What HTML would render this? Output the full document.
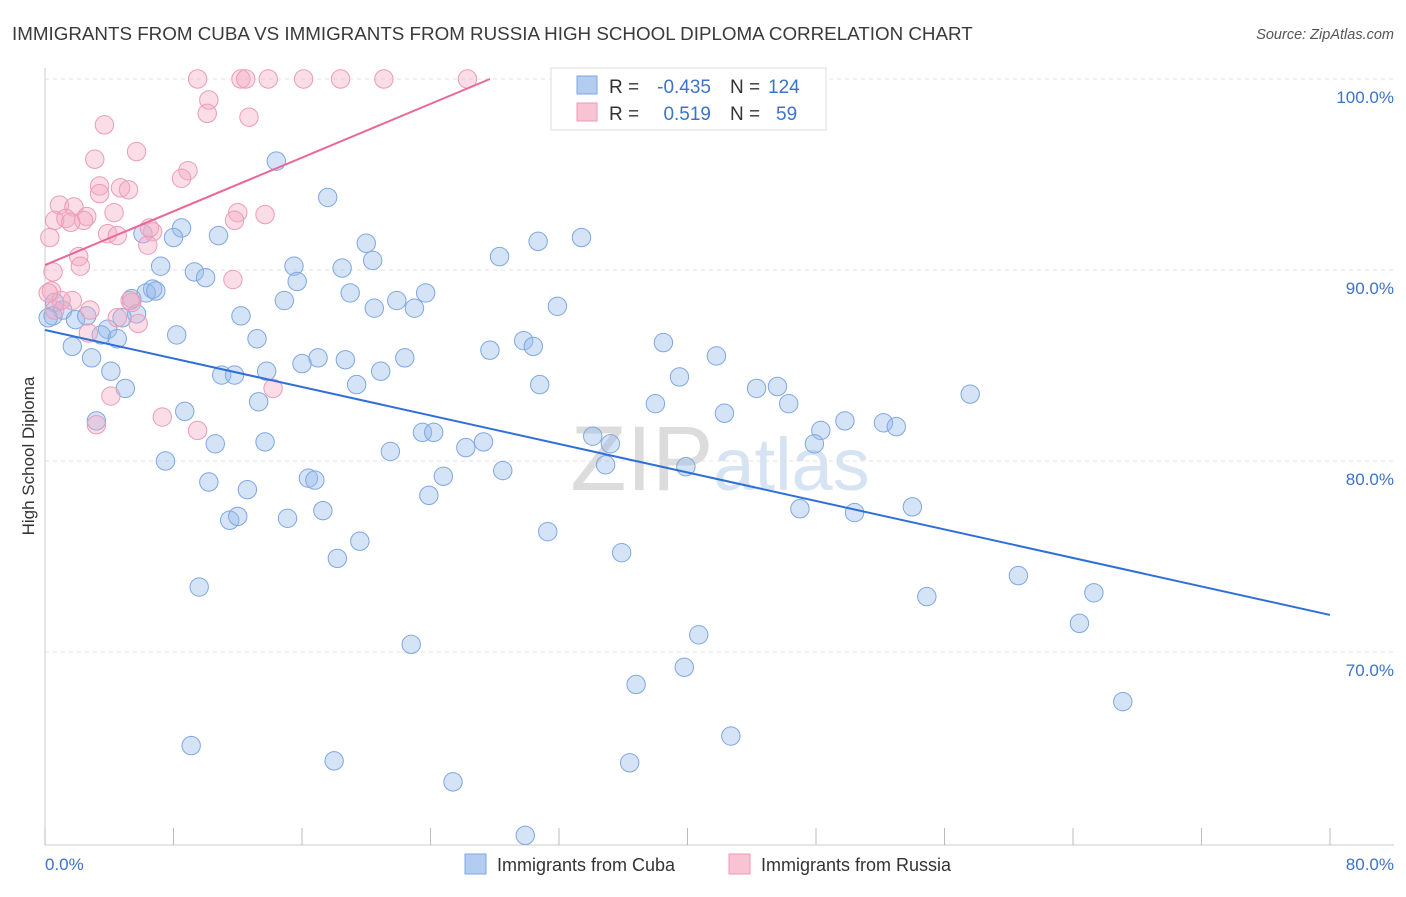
<!DOCTYPE html>
<html><head><meta charset="utf-8">
<style>
body{margin:0;background:#fff;font-family:"Liberation Sans",sans-serif;}
svg text{font-family:"Liberation Sans",sans-serif;}
</style></head>
<body>
<svg id="chart" width="1406" height="892" xmlns="http://www.w3.org/2000/svg">
<text x="12" y="40" font-size="18.8" fill="#3a3a3a">IMMIGRANTS FROM CUBA VS IMMIGRANTS FROM RUSSIA HIGH SCHOOL DIPLOMA CORRELATION CHART</text>
<text x="1394" y="39" font-size="14.5" fill="#555" font-style="italic" text-anchor="end">Source: ZipAtlas.com</text>
<text x="720" y="490" font-size="92" fill="#e4e4e4" text-anchor="middle" font-family="Liberation Serif"><tspan fill="#dcdcdc">ZIP</tspan><tspan fill="#d6e3f3" font-family="Liberation Sans" font-size="74">atlas</tspan></text>
<g id="grid"></g>
<g id="axes"></g>
<g id="pts"></g>
<g id="lines"></g>
<text transform="translate(34,456) rotate(-90)" font-size="17" fill="#333" text-anchor="middle">High School Diploma</text>
<text x="45" y="870" font-size="17" fill="#3b73c9">0.0%</text>
<text x="1394" y="870" font-size="17" fill="#3b73c9" text-anchor="end">80.0%</text>
<g>
<rect x="551" y="68" width="275" height="62" fill="#fff" stroke="#ddd"/>
<rect x="577" y="76" width="20" height="18" fill="#b3cdf2" stroke="#7fa6e0"/>
<rect x="577" y="103" width="20" height="18" fill="#f8c3d3" stroke="#eb98b2"/>
<text x="609" y="93" font-size="19" fill="#333">R =</text>
<text x="711" y="93" font-size="19" fill="#3b73c9" text-anchor="end">-0.435</text>
<text x="730" y="93" font-size="19" fill="#333">N =</text>
<text x="768" y="93" font-size="19" fill="#3b73c9">124</text>
<text x="609" y="120" font-size="19" fill="#333">R =</text>
<text x="711" y="120" font-size="19" fill="#3b73c9" text-anchor="end">0.519</text>
<text x="730" y="120" font-size="19" fill="#333">N =</text>
<text x="776" y="120" font-size="19" fill="#3b73c9">59</text>
</g>
<g>
<rect x="465" y="854" width="21" height="20" fill="#b3cdf2" stroke="#7fa6e0"/>
<text x="497" y="871" font-size="18" fill="#333">Immigrants from Cuba</text>
</g>
<g>
<rect x="729" y="854" width="21" height="20" fill="#f8c3d3" stroke="#eb98b2"/>
<text x="761" y="871" font-size="18" fill="#333">Immigrants from Russia</text>
</g>
</svg>
<script>
const cubaX=[14.4,17.6,8.5,6.1,8.0,10.8,20.0,30.7,33.4,28.3,20.4,7.2,15.5,18.5,9.3,10.0,15.7,5.4,6.7,6.3,6.9,14.9,19.0,21.9,23.7,20.5,23.0,31.9,12.2,5.7,4.8,3.9,3.5,4.5,8.2,13.2,0.6,0.5,1.1,1.9,2.6,1.7,2.9,0.2,29.8,30.4,27.7,38.5,41.8,17.0,18.7,16.0,22.4,4.1,11.0,11.8,13.8,20.9,19.4,30.8,39.5,44.3,45.6,5.0,13.3,8.7,46.3,42.3,38.0,57.6,49.8,52.2,53.0,48.3,47.9,3.2,10.6,13.7,23.5,24.2,26.2,27.3,34.1,35.2,21.5,7.5,34.9,39.9,28.5,24.8,10.2,16.4,16.8,12.6,23.9,47.0,50.4,54.0,17.3,15.1,11.5,12.0,31.3,19.6,18.2,35.9,60.6,65.3,54.9,9.6,64.4,40.7,22.8,39.8,36.8,67.1,42.7,9.1,18.0,36.4,25.4,29.9];
const cubaY=[95.7,93.8,92.2,91.9,91.7,91.8,91.4,91.5,91.7,90.7,90.5,90.2,90.2,90.1,89.9,89.6,89.4,88.5,89.0,88.8,88.9,88.4,88.8,88.4,88.8,88.0,88.0,88.1,87.6,87.7,87.5,86.9,86.6,86.4,86.6,86.4,88.3,87.6,87.9,87.4,87.6,86.0,85.4,87.5,86.3,86.0,85.8,86.2,85.5,85.4,85.3,85.1,85.4,84.7,84.5,84.5,84.7,84.7,84.0,84.0,84.4,83.8,83.9,83.8,83.1,82.6,83.0,82.5,83.0,83.5,82.1,82.0,81.8,81.6,80.9,82.1,80.9,81.0,81.5,81.5,80.7,81.0,81.3,80.9,80.5,80.0,79.8,79.7,79.5,79.2,78.9,79.1,79.0,78.5,78.2,77.5,77.3,77.6,77.4,77.0,76.9,77.1,76.3,75.8,74.9,75.2,74.0,73.1,72.9,73.4,71.5,70.9,70.4,69.2,68.3,67.4,65.6,65.1,64.3,64.2,63.2,60.4];
const russiaX=[9.5,12.2,12.5,13.9,16.1,18.4,21.1,26.3,34.6,10.2,10.1,12.7,3.7,5.7,3.1,8.9,8.5,3.4,4.7,5.2,3.4,0.9,1.8,4.3,12.0,13.7,0.6,1.3,2.6,2.4,1.6,11.8,0.3,3.9,4.5,6.7,6.4,2.1,2.2,0.5,11.7,0.4,1.7,2.8,5.4,4.5,5.8,2.7,4.1,14.2,3.2,7.3,9.5,0.6,6.5,5.3,1.0,0.2];
const russiaY=[100,100,100,100,100,100,100,100,100,98.9,98.2,98.0,97.6,96.2,95.8,95.2,94.8,94.4,94.3,94.2,94.0,93.4,93.3,93.0,93.0,92.9,92.6,92.7,92.8,92.6,92.5,92.6,91.7,91.9,91.8,92.0,91.3,90.7,90.2,89.9,89.5,88.9,88.4,87.9,88.3,87.5,87.2,86.7,83.4,83.8,81.9,82.3,81.6,87.9,92.2,88.4,88.4,88.8];
const yTicks=[100,90,80,70];
const yTickLabels=["100.0%","90.0%","80.0%","70.0%"];
const cubaTrend=[[0,86.86],[80,71.94]];
const russiaTrend=[[0,90.26],[27.7,100]];

const NS="http://www.w3.org/2000/svg";
const sx=v=>45+v/80*1285;
const sy=v=>79+(100-v)*19.1;
function mk(tag,attrs,parent){const e=document.createElementNS(NS,tag);for(const k in attrs)e.setAttribute(k,attrs[k]);parent.appendChild(e);return e;}
const grid=document.getElementById('grid'),axes=document.getElementById('axes'),pts=document.getElementById('pts'),lines=document.getElementById('lines');
yTicks.forEach((t,i)=>{
  const l=mk('line',{x1:45,x2:1394,y1:sy(t),y2:sy(t),stroke:'#e2e2e2','stroke-dasharray':'4,4'},grid);
  
  
  const tx=mk('text',{x:1394,y:sy(t)+24,'font-size':17,fill:'#3b73c9','text-anchor':'end'},grid);
  tx.textContent=yTickLabels[i];
  
  
});
const ya=mk('line',{x1:45,x2:45,y1:68,y2:845,stroke:'#ccc'},axes);


const xa=mk('line',{x1:45,x2:1394,y1:845,y2:845,stroke:'#ccc'},axes);


for(let i=0;i<=10;i++){
  const t=mk('line',{x1:sx(i*8),x2:sx(i*8),y1:828,y2:845,stroke:'#bbb'},axes);
  
  
}
cubaX.forEach((x,i)=>{
  const c=mk('circle',{cx:sx(x),cy:sy(cubaY[i]),r:9.2,fill:'rgba(150,185,235,0.4)',stroke:'#7ea7e2','stroke-width':1},pts);
  
  
});
russiaX.forEach((x,i)=>{
  const c=mk('circle',{cx:sx(x),cy:sy(russiaY[i]),r:9.2,fill:'rgba(245,170,195,0.4)',stroke:'#ec9bb6','stroke-width':1},pts);
  
  
});
const l1=mk('line',{x1:sx(cubaTrend[0][0]),y1:sy(cubaTrend[0][1]),x2:sx(cubaTrend[1][0]),y2:sy(cubaTrend[1][1]),stroke:'#2f6fd6','stroke-width':2},lines);


const l2=mk('line',{x1:sx(russiaTrend[0][0]),y1:sy(russiaTrend[0][1]),x2:sx(russiaTrend[1][0]),y2:sy(russiaTrend[1][1]),stroke:'#e8689a','stroke-width':2},lines);


</script>
</body></html>
